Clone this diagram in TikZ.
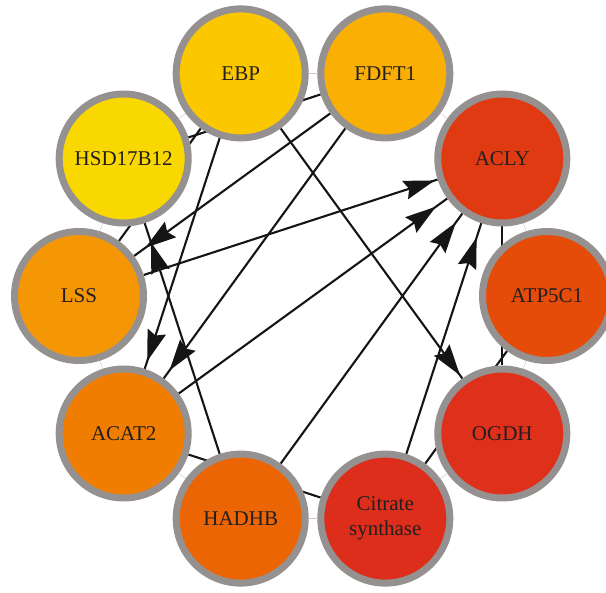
\documentclass[tikz,border=0pt]{standalone}
\usepackage{fontspec}
\setmainfont{Liberation Serif}
\usetikzlibrary{arrows.meta,decorations.markings}
\pgfdeclarelayer{bg}
\pgfsetlayers{bg,main}
\definecolor{cEBP}{HTML}{FBC800}
\definecolor{cFDFT}{HTML}{F9AF03}
\definecolor{cHSD}{HTML}{F9D700}
\definecolor{cLSS}{HTML}{F59605}
\definecolor{cACAT}{HTML}{F07C00}
\definecolor{cHADHB}{HTML}{EC6504}
\definecolor{cCS}{HTML}{DD2D1B}
\definecolor{cOGDH}{HTML}{DF301B}
\definecolor{cACLY}{HTML}{E03A12}
\definecolor{cATP}{HTML}{E54B09}
\definecolor{ringgray}{HTML}{969191}
\definecolor{txt}{HTML}{231F20}
\definecolor{edgec}{HTML}{151515}
\tikzset{
  gene/.style={circle, draw=ringgray, line width=7pt, minimum size=129pt, inner sep=0pt,
    font=\fontsize{21}{25}\selectfont, text=txt, align=center},
  arr/.style={line width=2.1pt, draw=edgec, postaction={decorate},
    decoration={markings, mark=at position -#1 with {\arrow{Stealth[length=31pt,width=19pt,inset=4pt]}}}},
  hid/.style={line width=2.1pt, draw=edgec},
  ringline/.style={line width=0.4pt, draw=gray!45},
}
\begin{document}
\begin{tikzpicture}[x=1pt,y=-1pt]
\path[use as bounding box, clip] (0,0) rectangle (606,593);
\node[gene, fill=cATP]   (ATP)   at (547,296)     {ATP5C1};
\node[gene, fill=cACLY]  (ACLY)  at (502.3,158.5) {ACLY};
\node[gene, fill=cFDFT]  (FDFT)  at (385.3,73.4)  {FDFT1};
\node[gene, fill=cEBP]   (EBP)   at (240.7,73.4)  {EBP};
\node[gene, fill=cHSD]   (HSD)   at (123.7,158.5) {HSD17B12};
\node[gene, fill=cLSS]   (LSS)   at (79,296)      {LSS};
\node[gene, fill=cACAT]  (ACAT)  at (123.7,433.5) {ACAT2};
\node[gene, fill=cHADHB] (HADHB) at (240.7,518.6) {HADHB};
\node[gene, fill=cCS]    (CS)    at (385.3,518.6) {Citrate\\synthase};
\node[gene, fill=cOGDH]  (OGDH)  at (502.3,433.5) {OGDH};
\begin{pgfonlayer}{bg}
  \foreach \a/\b in {ATP/ACLY,ACLY/FDFT,FDFT/EBP,EBP/HSD,HSD/LSS,LSS/ACAT,ACAT/HADHB,HADHB/CS,CS/OGDH,OGDH/ATP}
    \draw[ringline] (\a) -- (\b);
  \draw[hid] (HSD) -- (FDFT);
  \draw[hid] (LSS) -- (EBP);
  \draw[hid] (ACLY) -- (OGDH);
  \draw[hid] (ATP) -- (CS);
  \draw[hid] (ACAT) -- (CS);
  \draw[arr=3pt]  (LSS) -- (ACLY);
  \draw[arr=14pt] (ACAT) -- (ACLY);
  \draw[arr=11pt] (HADHB) -- (ACLY);
  \draw[arr=15pt] (CS) -- (ACLY);
  \draw[arr=4pt]  (EBP) -- (OGDH);
  \draw[arr=20pt] (HADHB) -- (HSD);
  \draw[arr=8pt]  (EBP) -- (ACAT);
  \draw[arr=10pt] (FDFT) -- (ACAT);
  \draw[arr=14pt] (FDFT) -- (LSS);
\end{pgfonlayer}
\end{tikzpicture}
\end{document}
